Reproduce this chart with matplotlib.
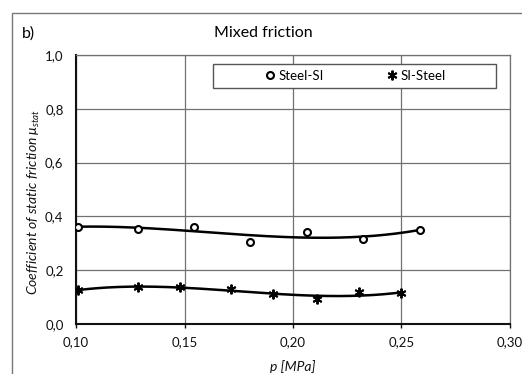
import numpy as np
import matplotlib
matplotlib.use("Agg")
import matplotlib.pyplot as plt
from matplotlib.patches import Rectangle
from matplotlib.ticker import FuncFormatter

p_steel_si = [0.101, 0.1285, 0.1545, 0.180, 0.2063, 0.2322, 0.2584]
mu_steel_si = [0.362, 0.354, 0.360, 0.306, 0.341, 0.317, 0.351]

p_si_steel = [0.101, 0.1285, 0.148, 0.1714, 0.1908, 0.2111, 0.2303, 0.2499]
mu_si_steel = [0.127, 0.136, 0.136, 0.130, 0.112, 0.092, 0.118, 0.114]

x_ticks = [0.10, 0.15, 0.20, 0.25, 0.30]
y_ticks = [0.0, 0.2, 0.4, 0.6, 0.8, 1.0]

plt.rcParams['font.family'] = ['Lato', 'DejaVu Sans']
plt.rcParams['mathtext.fontset'] = 'custom'
plt.rcParams['mathtext.it'] = 'Lato:italic'
plt.rcParams['mathtext.rm'] = 'Lato'

fig = plt.figure(figsize=(5.22, 3.74), dpi=100)
ax = fig.add_axes([0.1456, 0.1337, 0.8314, 0.719])

#trendlines (3rd order polynomial like excel)
for px, py in [(p_steel_si, mu_steel_si), (p_si_steel, mu_si_steel)]:
    c = np.polyfit(px, py, 3)
    xs = np.linspace(min(px), max(px), 200)
    ax.plot(xs, np.polyval(c, xs), color='black', lw=1.8, zorder=3)

ax.plot(p_steel_si, mu_steel_si, ls='none', marker='o', ms=5, mfc='white',
        mec='black', mew=1.5, label='Steel-SI', zorder=4)
ax.plot(p_si_steel, mu_si_steel, ls='none', marker=(6, 2, 0), ms=7,
        mec='black', mew=1.4, label='SI-Steel', zorder=4)

ax.set_xlim(0.10, 0.30)
ax.set_ylim(0.0, 1.0)
ax.set_xticks(x_ticks)
ax.set_yticks(y_ticks)
ax.xaxis.set_major_formatter(FuncFormatter(lambda v, pos: f"{v:.2f}".replace('.', ',')))
ax.yaxis.set_major_formatter(FuncFormatter(lambda v, pos: f"{v:.1f}".replace('.', ',')))
ax.tick_params(axis='x', length=3, width=1, labelsize=9.5, pad=6, colors='#111111')
ax.tick_params(axis='y', length=0, labelsize=9.5, pad=9, colors='#111111')
ax.grid(True, color='#707070', lw=0.9)
ax.set_axisbelow(True)
for s in ['top', 'right']:
    ax.spines[s].set_color('#707070')
    ax.spines[s].set_linewidth(0.9)
for s in ['left', 'bottom']:
    ax.spines[s].set_color('#111111')
    ax.spines[s].set_linewidth(1.5)

ax.set_xlabel('p [MPa]', fontsize=10, style='italic', labelpad=8, color='#111111')
ax.set_ylabel(r'Coefficient of static friction $\mu_{stat}$', fontsize=10,
              style='italic', color='#111111')
ax.yaxis.set_label_coords(-0.078, 0.455)

# legend box
ax.add_patch(Rectangle((0.316, 0.877), 0.652, 0.09, transform=ax.transAxes,
                       facecolor='white', edgecolor='#555555', lw=1.0, zorder=5))
leg = ax.legend(loc='center', bbox_to_anchor=(0.642, 0.922), ncol=2, frameon=False,
                fontsize=9.5, handletextpad=0.1, columnspacing=4.6, handlelength=1.1)
leg.set_zorder(6)

fig.text(0.504, 0.912, 'Mixed friction', ha='center', va='center', fontsize=11.5)
fig.text(0.042, 0.909, 'b)', ha='left', va='center', fontsize=11.5)

# outer chart frame
fig.patches.append(Rectangle((12 / 522, -0.1), 1.2, 0.1 + 361 / 374,
                             transform=fig.transFigure, fill=False,
                             edgecolor='#777777', lw=1.0))

fig.savefig('out.png', dpi=100)
